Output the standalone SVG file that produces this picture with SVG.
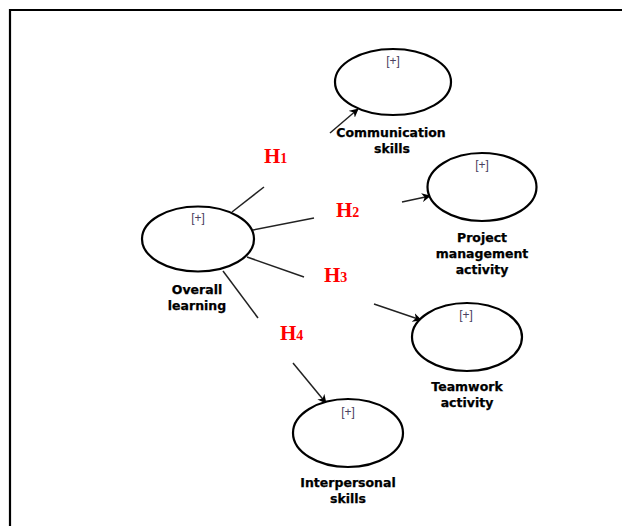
<svg xmlns="http://www.w3.org/2000/svg" width="622" height="526" viewBox="0 0 622 526">
<defs>
<marker id="arr" viewBox="0 0 10 10" refX="9" refY="5" markerWidth="9" markerHeight="9" markerUnits="userSpaceOnUse" orient="auto">
<path d="M0,0 L10,5 L0,10 L3,5 Z" fill="#000"/>
</marker>
<style>
.ell{fill:#fff;stroke:#000;stroke-width:2.2}
.plus{font-family:"Liberation Sans",Arial,sans-serif;font-size:12px;fill:#4a4060;text-anchor:middle}
.lab{font-family:"DejaVu Sans",Verdana,sans-serif;font-weight:bold;font-size:12.5px;fill:#000;stroke:#000;stroke-width:0.25;text-anchor:middle}
.h{font-family:"Liberation Serif","Times New Roman",serif;font-weight:bold;font-size:21px;fill:#ff0000}
.h tspan{font-size:14px}
.ln{stroke:#222;stroke-width:1.5;fill:none}
.ar{stroke:#222;stroke-width:1.5;fill:none;marker-end:url(#arr)}
</style>
</defs>
<rect width="622" height="526" fill="#fff"/>
<path d="M10,526 V10 H622" fill="none" stroke="#000" stroke-width="2.2"/>

<g id="connectors">
<line class="ln" x1="232" y1="212" x2="264" y2="187"/>
<line class="ln" x1="253" y1="230" x2="314" y2="218"/>
<line class="ln" x1="247" y1="257" x2="304" y2="277"/>
<line class="ln" x1="223" y1="271" x2="258" y2="318"/>
<line class="ar" x1="330" y1="133" x2="358" y2="109"/>
<line class="ar" x1="402" y1="202" x2="430" y2="196"/>
<line class="ar" x1="374" y1="304" x2="421" y2="320"/>
<line class="ar" x1="293" y1="363" x2="326" y2="403"/>
</g>

<g id="hypotheses">
<text class="h" x="264" y="163">H<tspan>1</tspan></text>
<text class="h" x="336" y="217">H<tspan>2</tspan></text>
<text class="h" x="324" y="282">H<tspan>3</tspan></text>
<text class="h" x="280" y="340">H<tspan>4</tspan></text>
</g>

<g id="overall-learning">
<ellipse class="ell" cx="198" cy="239" rx="56" ry="32.5"/>
<text class="plus" x="198" y="222">[+]</text>
<text class="lab" x="197" y="294">Overall</text>
<text class="lab" x="197" y="310">learning</text>
</g>

<g id="communication-skills">
<ellipse class="ell" cx="393" cy="82" rx="58" ry="33"/>
<text class="plus" x="393" y="65">[+]</text>
<text class="lab" x="391" y="137">Communication</text>
<text class="lab" x="392" y="153">skills</text>
</g>

<g id="project-management">
<ellipse class="ell" cx="482" cy="187" rx="54.5" ry="34"/>
<text class="plus" x="482" y="169">[+]</text>
<text class="lab" x="482" y="242">Project</text>
<text class="lab" x="482" y="258">management</text>
<text class="lab" x="482" y="274">activity</text>
</g>

<g id="teamwork-activity">
<ellipse class="ell" cx="467" cy="337" rx="55" ry="34"/>
<text class="plus" x="466" y="319">[+]</text>
<text class="lab" x="467" y="391">Teamwork</text>
<text class="lab" x="467" y="407">activity</text>
</g>

<g id="interpersonal-skills">
<ellipse class="ell" cx="348" cy="433" rx="55" ry="34"/>
<text class="plus" x="348" y="416">[+]</text>
<text class="lab" x="348" y="487">Interpersonal</text>
<text class="lab" x="348" y="503">skills</text>
</g>
</svg>
